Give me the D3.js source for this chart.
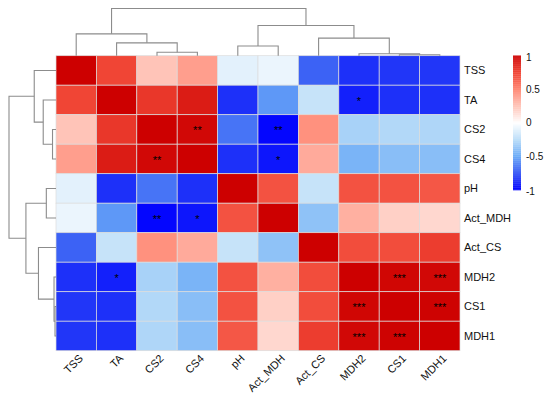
<!DOCTYPE html>
<html><head><meta charset="utf-8">
<script src="https://cdn.jsdelivr.net/npm/d3@7/dist/d3.min.js"></script>
<style>body{margin:0;background:#fff;}svg{display:block;}text{font-family:"Liberation Sans",Arial,sans-serif;}</style>
</head><body>
<svg id="c" width="550" height="400"></svg>
<script>
// ---- data ----
const variables = ["TSS","TA","CS2","CS4","pH","Act_MDH","Act_CS","MDH2","CS1","MDH1"];
const corrTSS    = [1, 0.75, 0.25, 0.40, -0.10, -0.07, -0.70, -0.85, -0.83, -0.83];
const corrTA     = [0.75, 1, 0.80, 0.90, -0.85, -0.55, -0.20, -0.90, -0.85, -0.85];
const corrCS2    = [0.25, 0.80, 1, 0.97, -0.65, -0.98, 0.45, -0.30, -0.27, -0.28];
const corrCS4    = [0.40, 0.90, 0.97, 1, -0.85, -0.93, 0.35, -0.45, -0.40, -0.40];
const corrPH     = [-0.10, -0.85, -0.65, -0.85, 1, 0.70, -0.20, 0.70, 0.70, 0.68];
const corrActMDH = [-0.07, -0.55, -0.98, -0.93, 0.70, 1, -0.38, 0.33, 0.20, 0.17];
const corrActCS  = [-0.70, -0.20, 0.45, 0.35, -0.20, -0.38, 1, 0.72, 0.72, 0.78];
const corrMDH2   = [-0.85, -0.90, -0.30, -0.45, 0.70, 0.33, 0.72, 1, 0.98, 0.97];
const corrCS1    = [-0.83, -0.85, -0.27, -0.40, 0.70, 0.20, 0.72, 0.98, 1, 0.99];
const corrMDH1   = [-0.83, -0.85, -0.28, -0.40, 0.68, 0.17, 0.78, 0.97, 0.99, 1];
const corr = [corrTSS, corrTA, corrCS2, corrCS4, corrPH, corrActMDH, corrActCS, corrMDH2, corrCS1, corrMDH1];
// significance marks [row, col, label]
const stars = [
  ["TA","MDH2","*"],["MDH2","TA","*"],
  ["CS2","CS4","**"],["CS4","CS2","**"],
  ["CS2","Act_MDH","**"],["Act_MDH","CS2","**"],
  ["CS4","Act_MDH","*"],["Act_MDH","CS4","*"],
  ["MDH2","CS1","***"],["CS1","MDH2","***"],
  ["MDH2","MDH1","***"],["MDH1","MDH2","***"],
  ["CS1","MDH1","***"],["MDH1","CS1","***"]
];
// hierarchical clustering merges: [left, right, height]; numbers refer to earlier merges
const merges = [
  ["CS1","MDH1",0.021],
  ["MDH2",0,0.042],
  ["CS2","CS4",0.074],
  ["pH","Act_MDH",0.206],
  ["TA",2,0.272],
  ["Act_CS",1,0.373],
  ["TSS",4,0.463],
  [3,5,0.64],
  [6,7,1.0]
];
const legendTicks = [1, 0.5, 0, -0.5, -1];
const paletteStops = [-1, -0.75, -0.5, -0.25, 0, 0.25, 0.5, 0.75, 1];
const paletteColors = ["#0000FF","#3050F5","#6AAAF7","#B8DCF8","#FFFFFF","#FFC4B8","#FF8470","#F04535","#CD0000"];

// ---- layout ----
const svg = d3.select("#c");
const gx0 = 56, gx1 = 460, gy0 = 55.7, gy1 = 350.7;
const x = d3.scaleBand().domain(variables).range([gx0, gx1]);
const y = d3.scaleBand().domain(variables).range([gy0, gy1]);
const color = d3.scaleLinear().domain(paletteStops).range(paletteColors).interpolate(d3.interpolateRgb).clamp(true);

// cells
const cells = [];
corr.forEach((row, i) => row.forEach((v, j) => cells.push({r: variables[i], c: variables[j], v})));
svg.append("g").selectAll("rect").data(cells).join("rect")
  .attr("x", d => x(d.c)).attr("y", d => y(d.r))
  .attr("width", x.bandwidth()).attr("height", y.bandwidth())
  .attr("fill", d => color(d.v))
  .attr("stroke", "#dcdcdc").attr("stroke-width", 0.7);

// stars
svg.append("g").selectAll("text").data(stars).join("text")
  .attr("x", d => x(d[1]) + x.bandwidth()/2)
  .attr("y", d => y(d[0]) + y.bandwidth()/2 + 5)
  .attr("text-anchor", "middle").attr("font-size", 11).attr("fill", "#000")
  .text(d => d[2]);

// row labels
svg.append("g").selectAll("text").data(variables).join("text")
  .attr("x", gx1 + 4).attr("y", d => y(d) + y.bandwidth()/2)
  .attr("dy", "0.35em").attr("font-size", 11).attr("fill", "#111")
  .text(d => d);

// column labels
svg.append("g").selectAll("text").data(variables).join("text")
  .attr("transform", d => `translate(${x(d) + x.bandwidth()/2 + 2},${gy1 + 3}) rotate(-45)`)
  .attr("text-anchor", "end").attr("dy", "0.7em").attr("font-size", 11).attr("fill", "#111")
  .text(d => d);

// dendrograms
function buildNodes(posOf) {
  const nodes = [];
  const get = k => typeof k === "number" ? nodes[k] : {p: posOf(k), h: 0};
  merges.forEach(m => {
    const a = get(m[0]), b = get(m[1]);
    nodes.push({a, b, h: m[2], p: (a.p + b.p) / 2});
  });
  return nodes;
}
const colCenter = k => x(k) + x.bandwidth()/2;
const rowCenter = k => y(k) + y.bandwidth()/2;
const hTop = d3.scaleLinear().domain([0, 1]).range([gy0, 8.5]);
const hLeft = d3.scaleLinear().domain([0, 1]).range([gx0, 9]);

const topNodes = buildNodes(colCenter);
svg.append("g").selectAll("path").data(topNodes).join("path")
  .attr("d", n => `M${n.a.p},${hTop(n.a.h)}V${hTop(n.h)}H${n.b.p}V${hTop(n.b.h)}`)
  .attr("fill", "none").attr("stroke", "#8c8c8c").attr("stroke-width", 1.1);

const leftNodes = buildNodes(rowCenter);
svg.append("g").selectAll("path").data(leftNodes).join("path")
  .attr("d", n => `M${hLeft(n.a.h)},${n.a.p}H${hLeft(n.h)}V${n.b.p}H${hLeft(n.b.h)}`)
  .attr("fill", "none").attr("stroke", "#8c8c8c").attr("stroke-width", 1.1);

// legend
const ly = d3.scaleLinear().domain([-1, 1]).range([190, 55.5]);
const lg = svg.append("g");
const steps = d3.range(-1, 1, 0.01);
lg.selectAll("rect").data(steps).join("rect")
  .attr("x", 513).attr("width", 8)
  .attr("y", d => ly(d + 0.01)).attr("height", d => ly(d) - ly(d + 0.01) + 0.3)
  .attr("fill", d => color(d + 0.005));
lg.selectAll("text").data(legendTicks).join("text")
  .attr("x", 526).attr("y", d => ly(d) + (d === 1 ? 1.5 : d === -1 ? 1.5 : 0)).attr("dy", "0.35em")
  .attr("font-size", 10).attr("fill", "#111")
  .text(d => d);
</script>
</body></html>
